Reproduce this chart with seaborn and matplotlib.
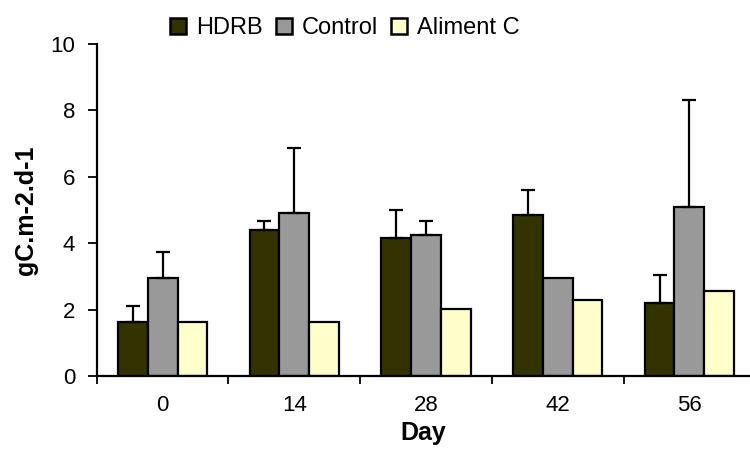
import numpy as np
import pandas as pd
import matplotlib
matplotlib.use("Agg")
import matplotlib.pyplot as plt
import seaborn as sns
from matplotlib.lines import Line2D

# values
days = ["0", "14", "28", "42", "56"]
groups = ["HDRB", "Control", "Aliment C"]
hdrb = [1.62, 4.41, 4.15, 4.84, 2.21]
control = [2.96, 4.92, 4.24, 2.96, 5.09]
aliment = [1.62, 1.62, 2.03, 2.29, 2.55]
hdrb_err = [0.50, 0.25, 0.86, 0.76, 0.84]
control_err = [0.77, 1.96, 0.42, 0.0, 3.23]
aliment_err = [0.0, 0.0, 0.0, 0.0, 0.0]

colors = ["#333300", "#999999", "#FFFFCC"]

sns.set_theme(style="white")
plt.rcParams["font.family"] = ["Liberation Sans", "DejaVu Sans"]
plt.rcParams["text.color"] = "black"
plt.rcParams["xtick.color"] = "black"
plt.rcParams["ytick.color"] = "black"
plt.rcParams["axes.labelcolor"] = "black"

df = pd.DataFrame({
    "Day": days * 3,
    "group": [g for g in groups for _ in days],
    "value": hdrb + control + aliment,
})
errs = [hdrb_err, control_err, aliment_err]

fig = plt.figure(figsize=(7.5, 4.53), dpi=100)
ax = fig.add_axes([0.129, 0.170, 0.871, 0.733])

sns.barplot(data=df, x="Day", y="value", hue="group", hue_order=groups,
            palette=colors, saturation=1, width=0.68, errorbar=None, gap=0,
            edgecolor="black", linewidth=1.6, ax=ax, legend=False)

# upper-only error bars on each bar
for cont, err in zip(ax.containers, errs):
    for patch, e in zip(cont.patches, err):
        if e <= 0:
            continue
        xc = patch.get_x() + patch.get_width() / 2
        top = patch.get_height()
        ax.errorbar(xc, top, yerr=[[0], [e]], fmt="none", ecolor="black",
                    elinewidth=1.6, capsize=5, capthick=1.6, zorder=3)

ax.set_ylim(0, 10)
ax.set_xlim(-0.5, 4.46)
ax.set_yticks([0, 2, 4, 6, 8, 10])
ax.tick_params(axis="y", direction="out", length=6.5, width=1.3, labelsize=16,
               left=True, color="black", pad=9)
ax.tick_params(axis="x", which="major", length=0, labelsize=16, pad=14)
ax.set_xticks(np.arange(-0.5, 4.0, 1.0), minor=True)
ax.tick_params(axis="x", which="minor", direction="out", length=6, width=1.3,
               bottom=True, color="black")

for side in ["top", "right"]:
    ax.spines[side].set_visible(False)
for side in ["left", "bottom"]:
    ax.spines[side].set_color("black")
    ax.spines[side].set_linewidth(1.6)

ax.set_xlabel("Day", fontsize=18, fontweight="bold", labelpad=3)
ax.set_ylabel("gC.m-2.d-1", fontsize=18, fontweight="bold", labelpad=9)

handles = [Line2D([0], [0], marker="s", linestyle="none", markersize=11,
                  markerfacecolor=c, markeredgecolor="black", markeredgewidth=1.8)
           for c in colors]
fig.legend(handles, groups, loc="center", bbox_to_anchor=(0.459, 0.938),
           ncol=3, frameon=False, fontsize=17, handletextpad=0.35,
           columnspacing=0.5, handlelength=0.8, borderpad=0)

fig.savefig("out.png", dpi=100)
